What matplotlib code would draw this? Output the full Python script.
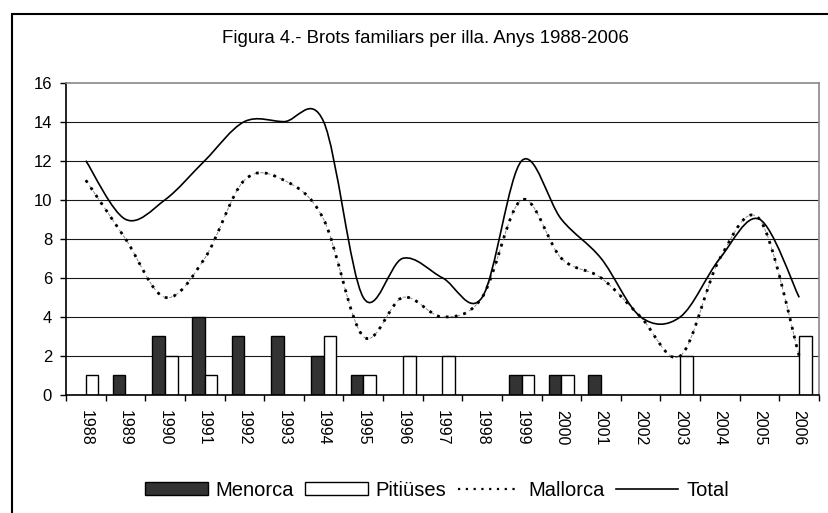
import numpy as np
import matplotlib
matplotlib.use("Agg")
from matplotlib import pyplot as plt
from matplotlib.path import Path
from matplotlib.patches import PathPatch, Rectangle, Patch
from matplotlib.lines import Line2D

plt.rcParams['font.family'] = ['Liberation Sans', 'DejaVu Sans']

# data
years = [str(y) for y in range(1988, 2007)]
menorca = [0, 1, 3, 4, 3, 3, 2, 1, 0, 0, 0, 1, 1, 1, 0, 0, 0, 0, 0]
pitiuses = [1, 0, 2, 1, 0, 0, 3, 1, 2, 2, 0, 1, 1, 0, 0, 2, 0, 0, 3]
mallorca = [11, 8, 5, 7, 11, 11, 9, 3, 5, 4, 5, 10, 7, 6, 4, 2, 7, 9, 2]
total = [12, 9, 10, 12, 14, 14, 14, 5, 7, 6, 5, 12, 9, 7, 4, 4, 7, 9, 5]


def SmoothPath(xs, ys):
    """Bezier path through the points, like the 'smoothed line' of a spreadsheet"""
    pts = np.column_stack([xs, ys]).astype(float)
    ext = np.vstack([pts[0], pts, pts[-1]])
    verts = [pts[0]]
    codes = [Path.MOVETO]
    for i in range(len(pts) - 1):
        p0, p1, p2, p3 = ext[i], ext[i + 1], ext[i + 2], ext[i + 3]
        c1 = p1 + (p2 - p0) / 6.0
        c2 = p2 - (p3 - p1) / 6.0
        verts += [c1, c2, p2]
        codes += [Path.CURVE4] * 3
    return Path(verts, codes)


fig = plt.figure(figsize=(8.29, 5.13), dpi=100)
ax = fig.add_axes([66 / 829, 1 - 395 / 513, (819 - 66) / 829, (395 - 82.6) / 513])

x = np.arange(len(years))
w = 0.32
ax.bar(x - w, menorca, w, align='edge', color='#333333', edgecolor='black', lw=1, zorder=2)
ax.bar(x, pitiuses, w, align='edge', color='white', edgecolor='black', lw=1, zorder=2)

# Mallorca: thin grey dashes under black dots
ax.add_patch(PathPatch(SmoothPath(x, mallorca), fill=False, color='#777777', lw=0.6,
                       linestyle=(0, (4, 4)), zorder=3))
ax.add_patch(PathPatch(SmoothPath(x, mallorca), fill=False, color='black', lw=2,
                       linestyle=(0, (1, 2.2)), capstyle='butt', zorder=4))
ax.add_patch(PathPatch(SmoothPath(x, total), fill=False, color='black', lw=1.2, zorder=4))

ax.set_xlim(-0.5, len(years) - 0.5)
ax.set_ylim(0, 16)
yt = np.arange(0, 17, 2)
ax.set_yticks(yt)
for v in yt[1:-1]:
    ax.axhline(v, color='#1a1a1a', lw=0.8, zorder=1)

ax.set_xticks(x)
ax.set_xticklabels(years, rotation=-90, fontsize=11.5)
ax.set_xticks(np.arange(-0.5, len(years), 1), minor=True)
ax.tick_params(axis='x', which='major', length=0, pad=11)
ax.tick_params(axis='x', which='minor', length=4, width=1, color='black', direction='out')
ax.tick_params(axis='y', length=4, width=1, direction='out', labelsize=12, pad=6)

for s in ['top', 'right']:
    ax.spines[s].set_color('#888888')
    ax.spines[s].set_linewidth(1.2)
for s in ['left', 'bottom']:
    ax.spines[s].set_color('black')
    ax.spines[s].set_linewidth(1.2)

fig.text(425 / 829, 1 - 39 / 513, 'Figura 4.- Brots familiars per illa. Anys 1988-2006',
         ha='center', va='center', fontsize=13.4)

handles = [
    Patch(facecolor='#333333', edgecolor='black', lw=1),
    Patch(facecolor='white', edgecolor='black', lw=1),
    Line2D([], [], color='black', lw=1.6, linestyle=(0, (1, 2.5))),
    Line2D([], [], color='black', lw=1.2),
]
fig.legend(handles, ['Menorca', 'Pitiüses', 'Mallorca', 'Total'], loc='center',
           bbox_to_anchor=(437 / 829, 1 - 490 / 513), ncol=4, frameon=False,
           fontsize=14.5, handlelength=3.1, handleheight=0.6, handletextpad=0.4,
           columnspacing=0.55, borderpad=0)

# outer chart frame (runs off the right and bottom of the image)
fig.patches.append(Rectangle((12 / 829, -0.1), 1.2, 1 - 14 / 513 + 0.1, transform=fig.transFigure,
                             fill=False, edgecolor='black', lw=1.5))

fig.savefig('out.png', dpi=100)
